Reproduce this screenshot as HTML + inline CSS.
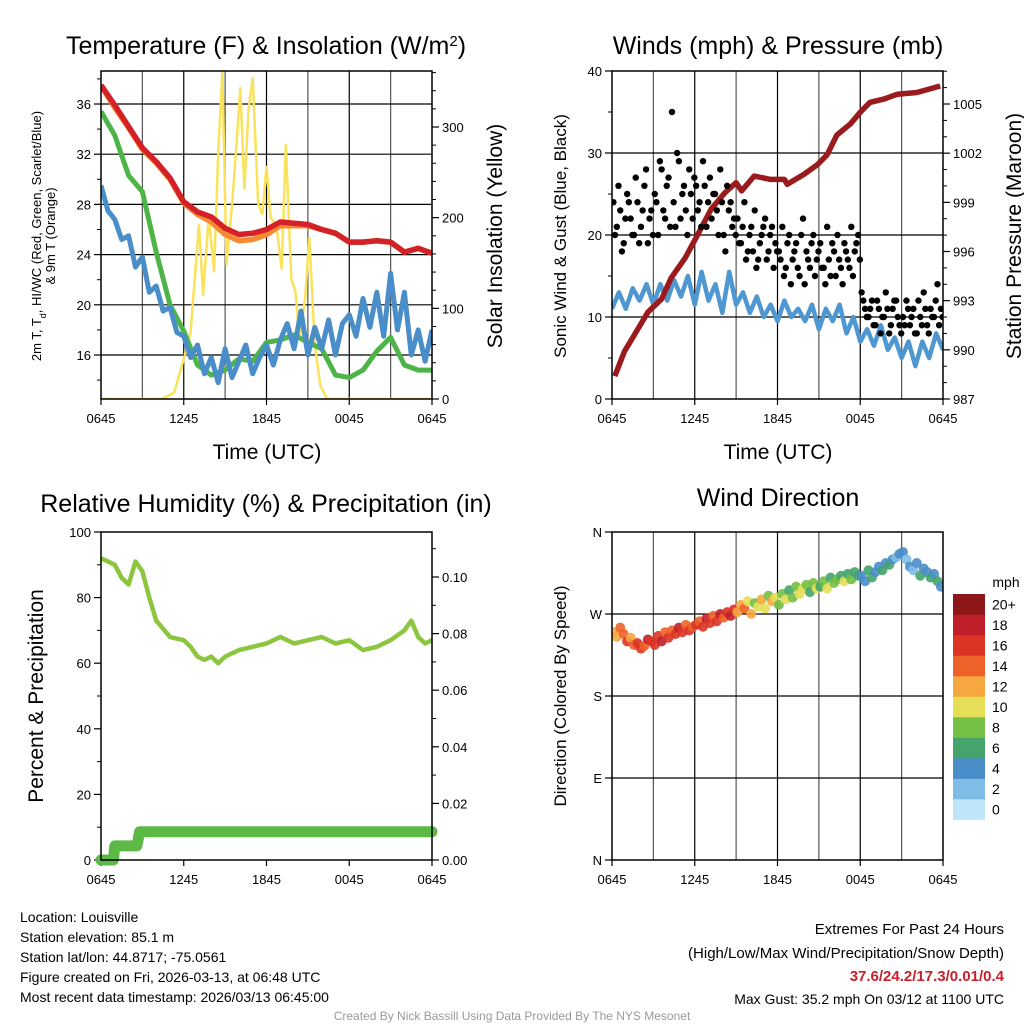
<!DOCTYPE html>
<html><head><meta charset="utf-8">
<style>
html,body{margin:0;padding:0;background:#fff;}
svg{display:block;font-family:"Liberation Sans",Arial,sans-serif;}
</style></head>
<body>
<svg id="chart" width="1024" height="1024" viewBox="0 0 1024 1024">
<g id="g"></g>
<text x="266" y="54" font-size="25" text-anchor="middle">Temperature (F) &amp; Insolation (W/m<tspan baseline-shift="super" font-size="15">2</tspan>)</text>
<text x="778" y="54" font-size="25" text-anchor="middle">Winds (mph) &amp; Pressure (mb)</text>
<text x="266" y="512" font-size="25" text-anchor="middle">Relative Humidity (%) &amp; Precipitation (in)</text>
<text x="778" y="506" font-size="25" text-anchor="middle">Wind Direction</text>
<text x="267" y="459" font-size="21" text-anchor="middle">Time (UTC)</text>
<text x="778" y="459" font-size="21" text-anchor="middle">Time (UTC)</text>
<text transform="translate(41,236) rotate(-90)" font-size="13" text-anchor="middle">2m T, T<tspan baseline-shift="sub" font-size="9">d</tspan>, HI/WC (Red, Green, Scarlet/Blue)</text>
<text transform="translate(55,236) rotate(-90)" font-size="13" text-anchor="middle">&amp; 9m T (Orange)</text>
<text transform="translate(502,236) rotate(-90)" font-size="21" text-anchor="middle">Solar Insolation (Yellow)</text>
<text transform="translate(566,236) rotate(-90)" font-size="17" text-anchor="middle">Sonic Wind &amp; Gust (Blue, Black)</text>
<text transform="translate(1021,236) rotate(-90)" font-size="21" text-anchor="middle">Station Pressure (Maroon)</text>
<text transform="translate(43,696) rotate(-90)" font-size="21" text-anchor="middle">Percent &amp; Precipitation</text>
<text transform="translate(566,696) rotate(-90)" font-size="17" text-anchor="middle">Direction (Colored By Speed)</text>
<g font-size="14">
<text x="20" y="922">Location: Louisville</text>
<text x="20" y="942">Station elevation: 85.1 m</text>
<text x="20" y="962">Station lat/lon: 44.8717; -75.0561</text>
<text x="20" y="982">Figure created on Fri, 2026-03-13, at 06:48 UTC</text>
<text x="20" y="1002">Most recent data timestamp: 2026/03/13 06:45:00</text>
</g>
<g font-size="15" text-anchor="end">
<text x="1004" y="934">Extremes For Past 24 Hours</text>
<text x="1004" y="958">(High/Low/Max Wind/Precipitation/Snow Depth)</text>
<text x="1004" y="981" fill="#c8202a" font-weight="bold">37.6/24.2/17.3/0.01/0.4</text>
<text x="1004" y="1004" font-size="14">Max Gust: 35.2 mph On 03/12 at 1100 UTC</text>
</g>
<text x="512" y="1020" font-size="12" fill="#999" text-anchor="middle">Created By Nick Bassill Using Data Provided By The NYS Mesonet</text>
</svg>
<script>
// ---- data ----
const xTickLabels = ["0645","1245","1845","0045","0645"];
const xTickHours = [0,6,12,18,24];
const hourly = [0,1,2,3,4,5,6,7,8,9,10,11,12,13,14,15,16,17,18,19,20,21,22,23,24];
const tempRed = [37.5,35.9,34.2,32.5,31.4,30.1,28.2,27.4,27.0,26.1,25.6,25.7,26.0,26.6,26.5,26.4,26.0,25.7,25.0,25.0,25.1,25.0,24.2,24.5,24.1];
const tempOrange = [37.5,35.7,34.1,32.4,31.3,30.0,28.1,27.2,26.6,25.6,25.1,25.2,25.6,26.3,26.3,26.3,26.0,25.7,25.0,25.0,25.1,25.0,24.2,24.5,24.1];
const tempGreen = [35.4,33.5,30.3,29.0,24.2,20.0,17.9,15.2,14.4,14.8,15.7,15.5,17.0,17.2,17.6,17.0,16.5,14.4,14.2,14.8,16.3,17.4,15.2,14.8,14.8];
const halfHourly = [0,0.5,1,1.5,2,2.5,3,3.5,4,4.5,5,5.5,6,6.5,7,7.5,8,8.5,9,9.5,10,10.5,11,11.5,12,12.5,13,13.5,14,14.5,15,15.5,16,16.5,17,17.5,18,18.5,19,19.5,20,20.5,21,21.5,22,22.5,23,23.5,24];
const tempBlue = [29.5,27.5,26.8,25.2,25.5,23.0,23.8,21.0,21.5,19.5,19.8,17.8,17.5,15.8,16.8,14.5,15.8,13.8,16.5,14.2,15.5,16.8,14.5,15.8,16.8,15.2,17.2,18.5,16.5,19.5,16.0,18.2,16.5,18.8,16.0,18.5,19.2,17.5,20.5,18.2,21.0,17.5,22.5,18.0,21.0,16.0,18.0,15.5,18.0];
const solHours = [0,4.4,5.3,6.0,6.5,7.1,7.4,7.8,8.2,8.5,8.8,9.1,9.5,9.8,10.1,10.4,10.7,11.0,11.4,11.7,12.0,12.3,12.7,13.1,13.4,13.8,14.1,14.4,14.8,15.1,15.5,15.9,16.4,24];
const solVals = [0,0,7,44,74,192,115,200,141,271,361,148,214,276,343,232,320,354,215,204,256,200,192,144,280,133,118,67,111,178,60,15,0,0];
const presHours = [0.2,0.9,1.9,2.6,3.6,4.3,5.3,6.2,7.2,8.2,9.0,9.4,10.3,11.5,12.5,12.7,13.9,14.9,15.6,16.3,17.3,18.0,18.7,19.7,20.7,22.1,23.8];
const presVals = [988.4,989.9,991.3,992.3,993.1,994.4,995.6,997.0,998.6,999.6,1000.2,999.7,1000.6,1000.4,1000.4,1000.1,1000.7,1001.3,1001.9,1003.1,1003.8,1004.5,1005.1,1005.3,1005.6,1005.7,1006.1];
const windBlue = [11,13,11,13.5,12,14,11.5,14,12,14.5,12.5,15,11.5,15.5,12,14,10.5,15.5,11.5,13,10.5,12.5,10,11.5,9.5,12,10,11,9.5,11.5,8.5,11,9.5,11.5,8,10,7,8.5,6.5,9,6,7.5,5,7,4,7,5,8,6];
const gustVals = [24,21,23,19,25,22,20,24,21,26,19,23,25,20,28,22,27,35,21,29,25,23,28,22,26,24,29,21,27,25,23,28,20,26,24,22,22,19,24,18,21,23,17,20,22,18,21,19,18,21,16,20,17,19,15,22,18,16,20,17,19,16,21,15,18,20,16,19,17,21,18,20,13,11,10,12,9,11,10,13,8,11,12,9,10,12,9,11,8,10,13,9,11,10,14,11];
const gustVals2 = [20,26,18,22,24,20,27,19,23,28,22,20,24,29,23,26,21,24,30,22,26,20,25,27,23,21,26,24,22,25,20,24,18,23,21,20,19,21,17,20,18,16,19,21,17,20,16,18,17,15,19,14,18,16,20,14,17,19,15,18,16,14,17,19,15,17,14,18,16,15,19,17,12,10,11,9,12,8,10,11,9,12,10,8,9,11,10,8,12,9,11,8,10,12,9,10];
const rhHours = [0,1,1.5,2,2.5,3,3.5,4,5,6,6.5,7,7.5,8,8.5,9,10,11,12,13,14,15,16,17,18,19,20,21,22,22.5,23,23.5,24];
const rhVals = [92,90,86,84,91,88,80,73,68,67,65,62,61,62,60,62,64,65,66,68,66,67,68,66,67,64,65,67,70,73,68,66,67];
const precipHours = [0,0.9,1.0,2.6,2.8,24];
const precipVals = [0,0,0.005,0.005,0.01,0.01];
const dirVals = [250,245,255,248,240,244,236,238,232,235,242,240,236,246,240,250,244,252,248,255,250,258,252,256,258,262,256,265,260,268,262,270,266,272,268,275,272,280,276,284,270,282,278,286,276,290,284,288,280,292,286,296,288,300,292,298,302,294,304,298,300,306,298,310,304,308,312,306,314,308,316,312,312,306,318,310,316,322,318,326,324,330,332,336,338,330,322,318,326,312,320,316,310,314,306,300];
const dirSpeeds = [12,13,15,14,16,12,14,17,16,15,18,16,17,16,18,15,17,14,16,18,17,15,16,14,16,15,17,18,16,14,17,18,15,16,18,17,13,12,14,10,12,9,11,13,10,9,12,10,8,9,10,7,9,8,10,11,9,7,8,10,7,8,10,6,8,9,7,10,6,8,7,6,5,4,6,7,5,4,6,5,7,4,3,5,4,2,5,3,4,6,5,4,6,5,7,4];
const cbarLabels = ["0","2","4","6","8","10","12","14","16","18","20+"];
const cbarColors = ["#bde4f8","#80bde6","#4a8ec9","#45a46c","#74bf45","#e4df57","#f6a73f","#ee6229","#dc3325","#c01f29","#8e1719"];

// ---- helpers ----
const NS = "http://www.w3.org/2000/svg";
const root = document.getElementById("g");
function mk(tag, attrs, parent){
  const e = document.createElementNS(NS, tag);
  for (const k in attrs) e.setAttribute(k, attrs[k]);
  (parent || root).appendChild(e);
  return e;
}
function lin(d0,d1,r0,r1){ return v => r0 + (v-d0)/(d1-d0)*(r1-r0); }
function pathD(xs, ys, fx, fy){ return xs.map((t,i)=>(i?"L":"M")+fx(t).toFixed(1)+","+fy(ys[i]).toFixed(1)).join(""); }

const P = {
  tl:{x0:101,x1:432,y0:71,y1:399},
  tr:{x0:612,x1:943,y0:71,y1:399},
  bl:{x0:101,x1:432,y0:532,y1:860},
  br:{x0:612,x1:943,y0:532,y1:860}
};

function xGridAndTicks(p, grid, name){
  const fx = lin(0,24,p.x0,p.x1);
  for (let h=3; h<24; h+=3){
    if (!grid) break;
    const l = mk("line",{x1:fx(h),x2:fx(h),y1:p.y0,y2:p.y1,stroke:(h%6===0?"#000":"#555"),"stroke-width":1.2});
    
    
  }
  xTickHours.forEach((h,i)=>{
    const tk = mk("line",{x1:fx(h),x2:fx(h),y1:p.y1,y2:p.y1+6,stroke:"#000","stroke-width":1.2});
    
    
    const tx = mk("text",{x:fx(h),y:p.y1+24,"font-size":13,"text-anchor":"middle"});
    tx.textContent = xTickLabels[i];
    
    
  });
  return fx;
}
function yAxis(p, side, vals, labels, fy, grid, name, minors){
  const x = side==="left"? p.x0 : p.x1;
  const dir = side==="left"? -1 : 1;
  vals.forEach((v,i)=>{
    const y = fy(v);
    if (grid && y>p.y0+1 && y<p.y1-1){
      const gl = mk("line",{x1:p.x0,x2:p.x1,y1:y,y2:y,stroke:"#000","stroke-width":1.2});
      
      
    }
    const tk = mk("line",{x1:x,x2:x+dir*7,y1:y,y2:y,stroke:"#000","stroke-width":1.2});
    
    
    const tx = mk("text",{x:x+dir*10,y:y+5,"font-size":13,"text-anchor":side==="left"?"end":"start"});
    tx.textContent = labels[i];
    
    
  });
  if (minors){
    minors.forEach(v=>{
      const y = fy(v);
      const mt = mk("line",{x1:x,x2:x+dir*4,y1:y,y2:y,stroke:"#000","stroke-width":1});
      
      
    });
  }
}
function frame(p, name){
  const r = mk("rect",{x:p.x0,y:p.y0,width:p.x1-p.x0,height:p.y1-p.y0,fill:"none",stroke:"#000","stroke-width":1.5});
  
  
}
function clipFor(p,id){
  const cp = mk("clipPath",{id:id});
  mk("rect",{x:p.x0,y:p.y0,width:p.x1-p.x0,height:p.y1-p.y0},cp);
  return "url(#"+id+")";
}

// ---- Panel 1 ----
(function(){
  const p = P.tl;
  const fx = xGridAndTicks(p, true, "temperature");
  const fy = lin(16,36,355,104);
  const fs = lin(0,300,399,127);
  const mins = []; for (let v=14; v<=38; v+=2) if (v%4) mins.push(v);
  yAxis(p,"left",[16,20,24,28,32,36],["16","20","24","28","32","36"],fy,true,"temperature",mins);
  const smins=[]; for (let v=20; v<=360; v+=20) if (v%100) smins.push(v);
  yAxis(p,"right",[0,100,200,300],["0","100","200","300"],fs,false,"insolation",smins);
  const clip = clipFor(p,"c1");
  const g = mk("g",{"clip-path":clip});
  const sol = mk("path",{d:pathD(solHours,solVals,fx,fs),fill:"none",stroke:"#fae35a","stroke-width":2.5,"stroke-linejoin":"round"},g);
  
  
  const gr = mk("path",{d:pathD(hourly,tempGreen,fx,fy),fill:"none",stroke:"#4db548","stroke-width":5,"stroke-linejoin":"round"},g);
  
  
  const bl = mk("path",{d:pathD(halfHourly,tempBlue,fx,fy),fill:"none",stroke:"#4a8ec9","stroke-width":5,"stroke-linejoin":"round"},g);
  
  
  const or = mk("path",{d:pathD(hourly,tempOrange,fx,fy),fill:"none",stroke:"#f58a33","stroke-width":5.5,"stroke-linejoin":"round"},g);
  
  
  const rd = mk("path",{d:pathD(hourly,tempRed,fx,fy),fill:"none",stroke:"#d42027","stroke-width":5.5,"stroke-linejoin":"round"},g);
  
  
  frame(p,"temperature");
})();

// ---- Panel 2 ----
(function(){
  const p = P.tr;
  const fx = xGridAndTicks(p, true, "winds");
  const fy = lin(0,40,399,71);
  const fp = lin(987,1005,399,104);
  yAxis(p,"left",[0,10,20,30,40],["0","10","20","30","40"],fy,true,"winds",[5,15,25,35]);
  const pm=[]; for (let v=988; v<=1007; v++) if ((v-987)%3) pm.push(v);
  yAxis(p,"right",[987,990,993,996,999,1002,1005],["987","990","993","996","999","1002","1005"],fp,false,"pressure",pm);
  const clip = clipFor(p,"c2");
  const g = mk("g",{"clip-path":clip});
  const wb = mk("path",{d:pathD(halfHourly,windBlue,fx,fy),fill:"none",stroke:"#4f97d1","stroke-width":4.5,"stroke-linejoin":"round"},g);
  
  
  const pl = mk("path",{d:pathD(presHours,presVals,fx,fp),fill:"none",stroke:"#9a1b1e","stroke-width":5.5,"stroke-linejoin":"round"},g);
  
  
  gustVals.forEach((v,i)=>{
    const c = mk("circle",{cx:fx(i*0.25+0.1),cy:fy(v),r:3.2,fill:"#000"},g);
    
    
  });
  gustVals2.forEach((v,i)=>{
    const c = mk("circle",{cx:fx(i*0.25+0.22),cy:fy(v),r:3.2,fill:"#000"},g);
    
    
  });
  frame(p,"winds");
})();

// ---- Panel 3 ----
(function(){
  const p = P.bl;
  const fx = xGridAndTicks(p, false, "humidity");
  const fy = lin(0,100,860,532);
  const fq = lin(0,0.10,860,577);
  yAxis(p,"left",[0,20,40,60,80,100],["0","20","40","60","80","100"],fy,false,"humidity",[10,30,50,70,90]);
  yAxis(p,"right",[0,0.02,0.04,0.06,0.08,0.10],["0.00","0.02","0.04","0.06","0.08","0.10"],fq,false,"precipitation",[0.01,0.03,0.05,0.07,0.09,0.11]);
  const rh = mk("path",{d:pathD(rhHours,rhVals,fx,fy),fill:"none",stroke:"#8cc63f","stroke-width":4.5,"stroke-linejoin":"round"});
  
  
  const pr = mk("path",{d:pathD(precipHours,precipVals,fx,fq),fill:"none",stroke:"#5cb946","stroke-width":11,"stroke-linejoin":"round","stroke-linecap":"round"});
  
  
  frame(p,"humidity");
})();

// ---- Panel 4 ----
(function(){
  const p = P.br;
  const fx = xGridAndTicks(p, true, "direction");
  const fd = lin(0,360,860,532);
  yAxis(p,"left",[0,90,180,270,360],["N","E","S","W","N"],fd,true,"direction",null);
  const clip = clipFor(p,"c4");
  const g = mk("g",{"clip-path":clip});
  dirVals.forEach((d,i)=>{
    const s = dirSpeeds[i];
    const idx = Math.min(10, Math.floor(s/2));
    const c = mk("circle",{cx:fx(i*0.25+0.1),cy:fd(d),r:5,fill:cbarColors[idx],"fill-opacity":0.9},g);
    
    
  });
  frame(p,"direction");
  const mph = mk("text",{x:1006,y:587,"font-size":14,"text-anchor":"middle"});
  mph.textContent = "mph";
  
  
  const bh = 20.5;
  cbarColors.forEach((col,i)=>{
    const y = 594 + (10-i)*bh;
    const r = mk("rect",{x:953,y:y,width:32,height:bh+0.3,fill:col});
    
    
    const t = mk("text",{x:992,y:y+bh/2+5,"font-size":14});
    t.textContent = cbarLabels[i];
    
    
  });
})();
</script>
</body></html>
